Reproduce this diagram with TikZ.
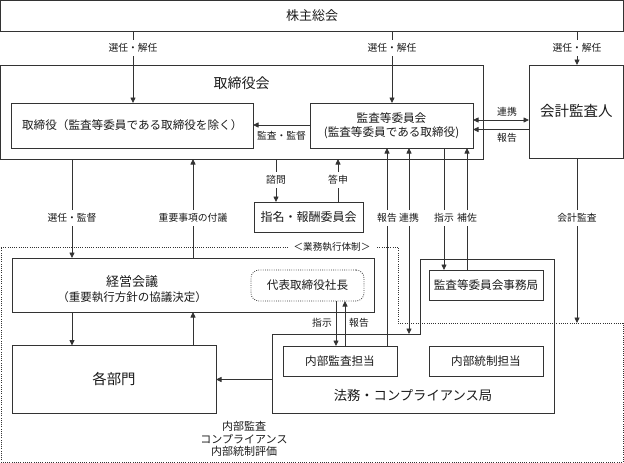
\documentclass[tikz,border=0pt]{standalone}
\usepackage{fontspec}
\setmainfont{Noto Sans CJK JP}
\usetikzlibrary{arrows.meta}
\definecolor{lc}{HTML}{333333}
\definecolor{tc}{HTML}{1A1A1A}
\begin{document}
\begin{tikzpicture}[x=1pt,y=-1pt,
  every node/.style={inner sep=0pt,outer sep=0pt,text=tc},
  box/.style={draw=lc,line width=0.8pt,anchor=north west},
  ln/.style={draw=lc,line width=0.8pt},
  arr/.style={ln,-{Triangle[length=5.5pt,width=5pt]}},
  darr/.style={ln,{Triangle[length=5.5pt,width=5pt]}-{Triangle[length=5.5pt,width=5pt]}},
  dotline/.style={draw=lc,line width=0.8pt,dash pattern=on 0.8pt off 1.4pt},
  lbl/.style={fill=white,inner xsep=1pt,inner ysep=3pt,font=\fontsize{9.8}{11}\selectfont},
  lblplain/.style={font=\fontsize{9.8}{11}\selectfont},
  fbig/.style={font=\fontsize{14}{16}\selectfont},
  fmid/.style={font=\fontsize{13}{15}\selectfont},
  fsm/.style={font=\fontsize{11.6}{14}\selectfont},
]
\useasboundingbox (0,0) rectangle (624,463);

% ---- boxes ----
\node[box,fmid,minimum width=623pt,minimum height=30.5pt] (soukai) at (0.5,0.5) {株主総会};
\node[box,minimum width=483pt,minimum height=94pt] (torikai) at (0.5,65) {};
\node[fbig] (torikaiT) at (241.5,83) {取締役会};
\node[box,font=\fontsize{14.5}{16}\selectfont,minimum width=94.5pt,minimum height=93pt] (kaikei) at (529,65) {会計監査人};
\node[box,fsm,minimum width=241.5pt,minimum height=45pt] (tori) at (11.5,103) {取締役（監査等委員である取締役を除く）};
\node[box,fsm,align=center,minimum width=163pt,minimum height=45pt] (kansa) at (310,103) {監査等委員会\\(監査等委員である取締役)};
\node[box,font=\fontsize{12}{14}\selectfont,minimum width=109pt,minimum height=30pt] (shimei) at (254,202) {指名・報酬委員会};

\node[box,minimum width=362pt,minimum height=54pt] (keiei) at (12,258) {};
\node[fmid] (keieiT) at (132,282) {経営会議};
\node[font=\fontsize{11.5}{13}\selectfont] (keieiS) at (132,297.5) {（重要執行方針の協議決定）};
\node[dotline,rounded corners=8pt,anchor=north west,fsm,minimum width=113pt,minimum height=31pt] (daihyo) at (251,270) {代表取締役社長};

\node[box,font=\fontsize{14.4}{16}\selectfont,minimum width=204pt,minimum height=67.5pt] (kakubu) at (12,345.5) {各部門};

\coordinate (hA) at (272,334);
\coordinate (hB) at (420,334);
\coordinate (hC) at (420,259);
\coordinate (hD) at (554,259);
\coordinate (hE) at (554,413);
\coordinate (hF) at (272,413);
\draw[ln] (hA) -- (hB) -- (hC) -- (hD) -- (hE) -- (hF) -- cycle;
\node[anchor=north west,minimum width=282pt,minimum height=79pt] (houmu) at (272,334) {};
\node[font=\fontsize{13.3}{15}\selectfont] (houmuT) at (413,395) {法務・コンプライアンス局};
\node[box,fsm,minimum width=114pt,minimum height=30pt] (jimu) at (429,270) {監査等委員会事務局};
\node[box,fsm,minimum width=114pt,minimum height=30pt] (naikan) at (283,346) {内部監査担当};
\node[box,fsm,minimum width=114pt,minimum height=30pt] (naitou) at (429,346) {内部統制担当};

\node[align=center,font=\fontsize{11}{12.8}\selectfont] (bottomT) at (244,439) {内部監査\\コンプライアンス\\内部統制評価};

% ---- dotted region ----
\draw[dotline] (1,247) -- (398,247) -- (398,323) -- (623,323) -- (623,462) -- (1,462) -- cycle;
\node[fill=white,inner xsep=6pt,inner ysep=2pt,font=\fontsize{9.6}{11}\selectfont] (gyomu) at (332,247) {＜業務執行体制＞};

% ---- x / y helpers ----
\coordinate (xA) at (133,0);
\coordinate (xB) at (392,0);
\coordinate (xC) at (577,0);
\coordinate (xD) at (276,0);
\coordinate (xE) at (338,0);
\coordinate (xF) at (387,0);
\coordinate (xG) at (409,0);
\coordinate (xH) at (444,0);
\coordinate (xI) at (467,0);
\coordinate (xJ) at (72,0);
\coordinate (xK) at (193,0);
\coordinate (xL) at (336,0);
\coordinate (xM) at (345,0);
\coordinate (yA) at (0,125);
\coordinate (yB) at (0,120);
\coordinate (yC) at (0,129.5);
\coordinate (yD) at (0,379.5);
\coordinate (kaikeiEnd) at (577,323);

% ---- connectors ----
\draw[arr] (soukai.south -| xA) -- (tori.north -| xA);
\draw[arr] (soukai.south -| xB) -- (kansa.north -| xB);
\draw[arr] (soukai.south -| xC) -- (kaikei.north -| xC);
\draw[arr] (kansa.west |- yA) -- (tori.east |- yA);
\draw[darr] (kansa.east |- yB) -- (kaikei.west |- yB);
\draw[arr] (kaikei.west |- yC) -- (kansa.east |- yC);
\draw[arr] (torikai.south -| xD) -- (shimei.north -| xD);
\draw[arr] (shimei.north -| xE) -- (torikai.south -| xE);
\draw[arr] (naikan.north -| xF) -- (kansa.south -| xF);
\draw[darr] (houmu.north -| xG) -- (kansa.south -| xG);
\draw[arr] (kansa.south -| xH) -- (jimu.north -| xH);
\draw[arr] (jimu.north -| xI) -- (kansa.south -| xI);
\draw[arr] (kaikei.south -| xC) -- (kaikeiEnd);
\draw[arr] (torikai.south -| xJ) -- (keiei.north -| xJ);
\draw[arr] (keiei.north -| xK) -- (torikai.south -| xK);
\draw[arr] (keiei.south -| xJ) -- (kakubu.north -| xJ);
\draw[arr] (kakubu.north -| xK) -- (keiei.south -| xK);
\draw[arr] (houmu.west |- yD) -- (kakubu.east |- yD);
\draw[arr] (daihyo.south -| xL) -- (naikan.north -| xL);
\draw[arr] (naikan.north -| xM) -- (daihyo.south -| xM);

% ---- labels ----
\node[lbl] (lA) at (133,48) {選任・解任};
\node[lbl] (lB) at (392,48) {選任・解任};
\node[lbl] (lC) at (577,48) {選任・解任};
\node[lblplain] (lD) at (281.5,136) {監査・監督};
\node[lblplain] (lE) at (507,112) {連携};
\node[lblplain] (lF) at (507,138) {報告};
\node[lbl] (lG) at (276,180) {諮問};
\node[lbl] (lH) at (338,180) {答申};
\node[lbl] (lI) at (387,218) {報告};
\node[lbl] (lJ) at (409,218) {連携};
\node[lbl] (lK) at (444,218) {指示};
\node[lbl] (lL) at (467,218) {補佐};
\node[lbl] (lM) at (577,218) {会計監査};
\node[lbl] (lN) at (72,218) {選任・監督};
\node[lbl] (lO) at (193,218) {重要事項の付議};
\node[lblplain] (lP) at (322,323) {指示};
\node[lblplain] (lQ) at (359,323) {報告};
\end{tikzpicture}
\end{document}
